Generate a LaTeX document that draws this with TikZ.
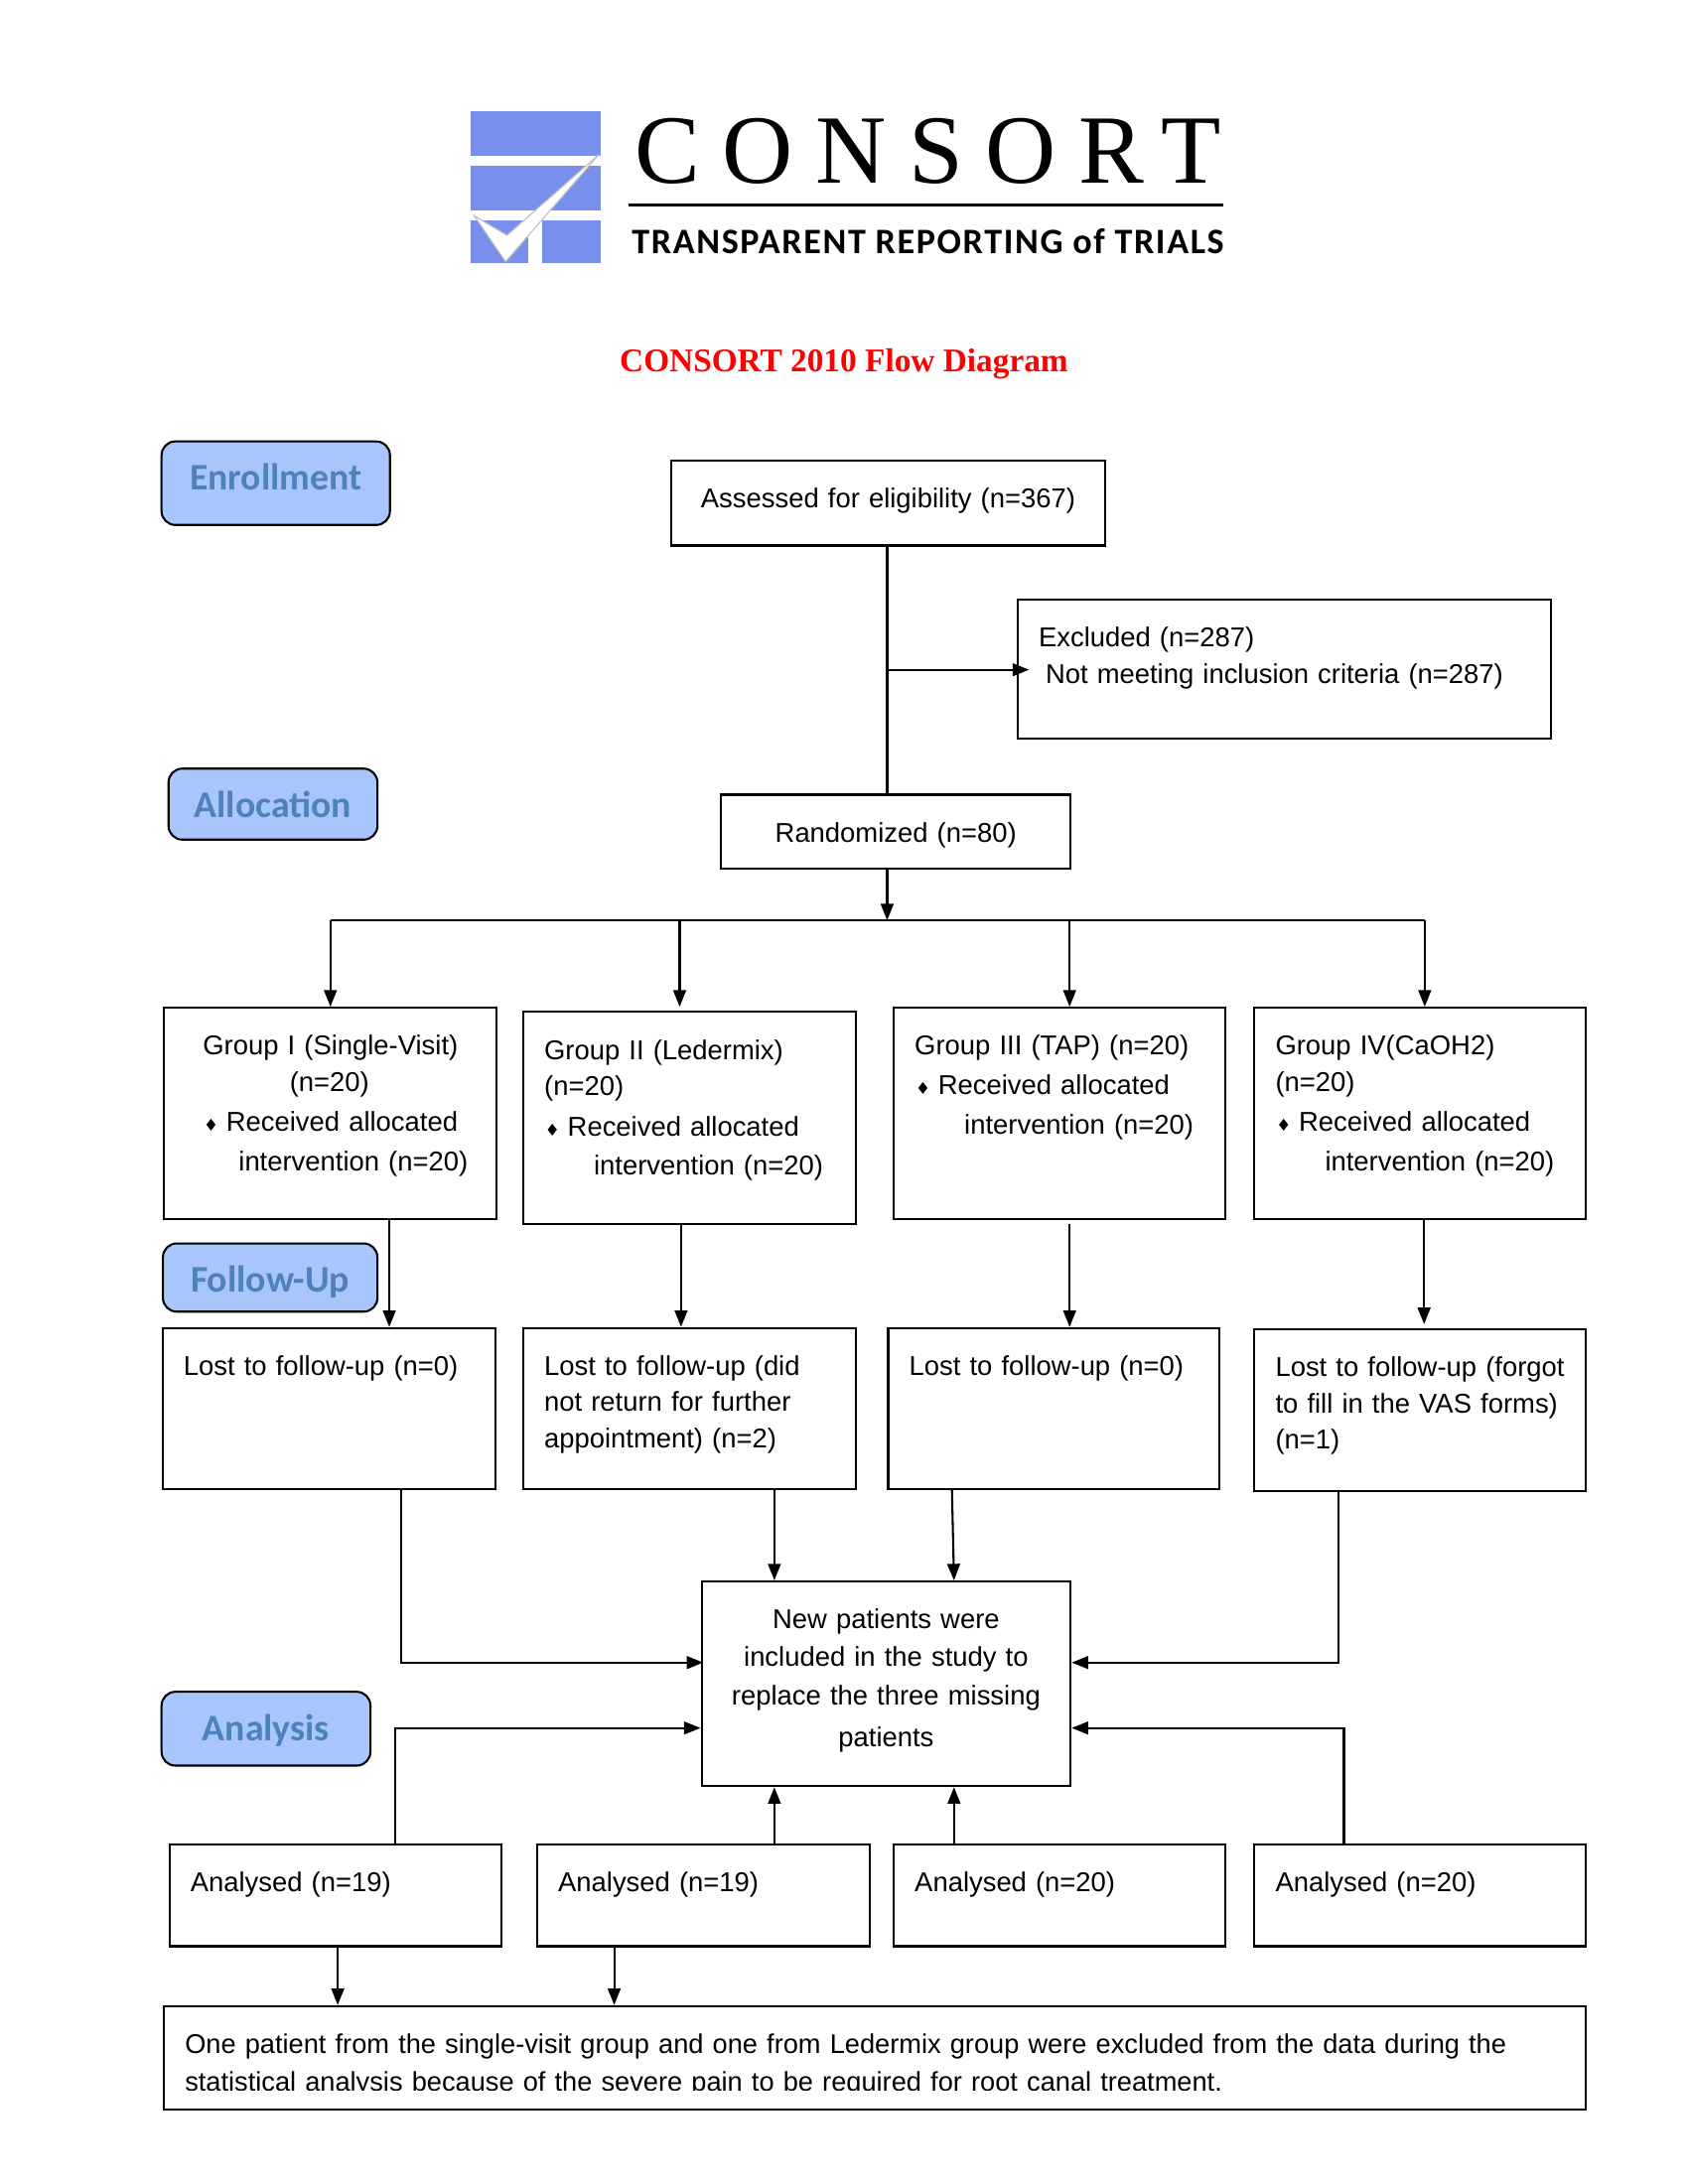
\documentclass[tikz,border=0pt]{standalone}
\usepackage{fontspec}
\setmainfont{Liberation Sans}
\newfontfamily\logofont[LetterSpace=23]{Liberation Serif}
\newfontfamily\tagfont[LetterSpace=4.5]{Carlito}
\newfontfamily\titlefont{Liberation Serif}
\newfontfamily\badgefont{Carlito}
\newfontfamily\dmdfont{DejaVu Sans}
\usetikzlibrary{arrows.meta}

\definecolor{logoblue}{RGB}{120,144,236}
\definecolor{badgefill}{RGB}{168,198,252}
\definecolor{badgetext}{RGB}{79,129,189}

\newcommand{\dmd}{\makebox[6pt][c]{\dmdfont\fontsize{6}{6}\selectfont ♦}\hspace{2.5pt}}

\tikzset{every picture/.style={line width=0.75pt},
  flowbox/.style 2 args={draw, anchor=north west, align=left, inner xsep=7.6pt, inner ysep=0pt,
    text width={#1*0.505pt-15.2pt}, text height=17.2pt, text depth={#2*0.505pt-17.2pt}, font=\fontsize{9.87}{13.1}\selectfont},
  badge/.style 2 args={draw, fill=badgefill, rounded corners=5pt, inner sep=0pt, text=badgetext,
    text height=9.6pt, text depth=0pt,
    minimum width={#1*0.505pt}, minimum height={#2*0.505pt}, font=\badgefont\bfseries\fontsize{13.6}{14}\selectfont},
  flowarrow/.style={-{Triangle[length=6pt,width=4.6pt]}}
}

\begin{document}
\begin{tikzpicture}[x=0.505pt,y=0.505pt,yscale=-1]
\useasboundingbox (0,0) rectangle (1212,1568.5);

%Logo Bars
\fill [logoblue] (338,80) rectangle (431,112);
\fill [logoblue] (338,119) rectangle (431,151);
\fill [logoblue] (338,158) rectangle (379,189);
\fill [logoblue] (389,158) rectangle (431,189);
%Logo Check
\draw [draw=black!25, line width=0.4pt, fill=white] (340.5,155) -- (364,169) -- (430,111) -- (363,188) -- cycle;

% Text Node
\node [inner sep=0pt, anchor=base west, font=\logofont\fontsize{35.5}{37}\selectfont] (logoname) at (455,131.5) {CONSORT};
%Logo Rule
\draw [line width=1pt] (451,147) -- (878,147);
% Text Node
\node [inner sep=0pt, anchor=base west, font=\tagfont\bfseries\fontsize{13}{14}\selectfont] (logotag) at (453,182.5) {TRANSPARENT REPORTING of TRIALS};
% Text Node
\node [inner sep=0pt, anchor=base, text=red, font=\titlefont\bfseries\fontsize{12}{14}\selectfont] (title) at (606,267) {CONSORT 2010 Flow Diagram};

%Rounded Rect
\node [badge={164}{60}] (enroll) at (198,347) {\raisebox{2.5pt}{Enrollment}};
\node [badge={150}{51}] (alloc) at (196,577.5) {Allocation};
\node [badge={154}{49}] (follow) at (194,917.5) {\raisebox{-0.5pt}{Follow-Up}};
\node [badge={150}{53}] (analysis) at (191,1241.5) {\raisebox{0.5pt}{Analysis}};

%Flow Box
\node [flowbox={312}{61}, align=center] (assess) at (481,330) {Assessed for eligibility (n=367)};
\node [flowbox={383}{100}] (excl) at (730,430) {Excluded (n=287)\\\hspace*{2.5pt}Not meeting inclusion criteria (n=287)};
\node [flowbox={251}{53}, align=center] (random) at (517,570) {Randomized (n=80)};

\node [flowbox={239}{152}] (groupI) at (117,723) {\hspace*{6.5pt}Group I (Single-Visit)\\\hspace*{38pt}(n=20)\\[1.5pt]\hspace*{6.5pt}\dmd Received allocated\\[1pt]\hspace*{19.5pt}intervention (n=20)};
\node [flowbox={239}{152}] (groupII) at (375,726) {Group II (Ledermix)\\(n=20)\\[1.5pt]\dmd Received allocated\\[1pt]\hspace*{18pt}intervention (n=20)};
\node [flowbox={238}{152}] (groupIII) at (641,723) {Group III (TAP) (n=20)\\[1pt]\dmd Received allocated\\[1.5pt]\hspace*{18pt}intervention (n=20)};
\node [flowbox={238}{152}] (groupIV) at (900,723) {Group IV(CaOH2)\\(n=20)\\[1.5pt]\dmd Received allocated\\[1pt]\hspace*{18pt}intervention (n=20)};

\node [flowbox={239}{116}] (lostI) at (116,953) {Lost to follow-up (n=0)};
\node [flowbox={239}{116}] (lostII) at (375,953) {Lost to follow-up (did\\not return for further\\appointment) (n=2)};
\node [flowbox={238}{116}] (lostIII) at (637,953) {Lost to follow-up (n=0)};
\node [flowbox={238}{116}] (lostIV) at (900,954) {\mbox{Lost to follow-up (forgot}\\\mbox{to fill in the VAS forms)}\\(n=1)};

\node [flowbox={265}{147}, align=center] (newpat) at (503,1135) {New patients were\\[0.5pt]included in the study to\\[1pt]replace the three missing\\[2pt]patients};

\node [flowbox={238}{73}] (analysedI) at (121,1324) {Analysed (n=19)};
\node [flowbox={239}{73}] (analysedII) at (385,1324) {Analysed (n=19)};
\node [flowbox={238}{73}] (analysedIII) at (641,1324) {Analysed (n=20)};
\node [flowbox={238}{73}] (analysedIV) at (900,1324) {Analysed (n=20)};

\node [flowbox={1021}{74}] (excluded) at (117,1440) {\fontsize{9.8}{13.1}\selectfont\mbox{One patient from the single-visit group and one from Ledermix group were excluded from the data during the}\\[0.5pt]statistical analysis because of the severe pain to be required for root canal treatment.};
%Cut Off Text
\fill [white] (119,1501.5) rectangle (1136,1512.5);

%Line Points
\coordinate (branch) at (637,481);
\coordinate (bus) at (637,661);
\coordinate (busII) at (488,661);
\coordinate (busIII) at (768,661);
\coordinate (busIV) at (1023,661);
\coordinate (downI) at (279.5,875);
\coordinate (downII) at (489,879);
\coordinate (downIII) at (768,879);
\coordinate (downIV) at (1022.5,876);
\coordinate (downIVend) at (1022.5,951);
\coordinate (lostIelbow) at (288,1194);
\coordinate (lostIVelbow) at (961,1194);
\coordinate (inII) at (556,1069);
\coordinate (inIII) at (683.5,1069);
\coordinate (inIIIend) at (685,1135);
\coordinate (analysedIelbow) at (284,1241);
\coordinate (analysedIVelbow) at (965,1241);
\coordinate (upII) at (556,1324);
\coordinate (upIII) at (685,1324);
\coordinate (outI) at (242.5,1397);
\coordinate (outII) at (441,1397);

%Straight Lines
\draw (bus |- assess.south) -- (bus |- random.north);
\draw [flowarrow, shorten >=-4.5pt] (branch) -- (branch -| excl.west);
\draw [flowarrow] (bus |- random.south) -- (bus);
\draw (groupI.north |- bus) -- (busIV);

\draw [flowarrow] (groupI.north |- bus) -- (groupI.north);
\draw [flowarrow, shorten >=1.5pt] (busII) -- (busII |- groupII.north);
\draw [flowarrow] (busIII) -- (busIII |- groupIII.north);
\draw [flowarrow] (busIV) -- (busIV |- groupIV.north);

\draw [flowarrow] (downI) -- (downI |- lostI.north);
\draw [flowarrow] (downII) -- (downII |- lostII.north);
\draw [flowarrow] (downIII) -- (downIII |- lostIII.north);
\draw [flowarrow] (downIV) -- (downIVend);

\draw [flowarrow, shorten >=-1pt] (lostIelbow |- lostI.south) -- (lostIelbow) -- (lostIelbow -| newpat.west);
\draw [flowarrow] (inII) -- (inII |- newpat.north);
\draw [flowarrow] (inIII) -- (inIIIend);
\draw [flowarrow] (lostIVelbow |- lostIV.south) -- (lostIVelbow) -- (lostIVelbow -| newpat.east);

\draw [flowarrow] (analysedIelbow |- analysedI.north) -- (analysedIelbow) -- (analysedIelbow -| newpat.west);
\draw [flowarrow] (upII) -- (upII |- newpat.south);
\draw [flowarrow] (upIII) -- (upIII |- newpat.south);
\draw [flowarrow] (analysedIVelbow |- analysedIV.north) -- (analysedIVelbow) -- (analysedIVelbow -| newpat.east);

\draw [flowarrow] (outI) -- (outI |- excluded.north);
\draw [flowarrow] (outII) -- (outII |- excluded.north);

\end{tikzpicture}
\end{document}
